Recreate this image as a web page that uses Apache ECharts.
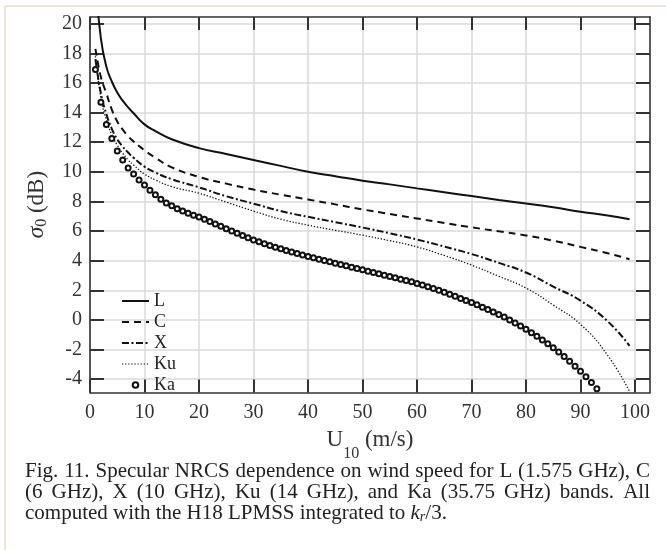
<!DOCTYPE html>
<html><head><meta charset="utf-8">
<script src="https://cdn.jsdelivr.net/npm/echarts@6/dist/echarts.min.js"></script>
<style>html,body{margin:0;padding:0;background:#fff}#c{width:666px;height:550px}</style>
</head><body><div id="c"></div>
<script>
// wind speed samples (m/s) for the line curves
const uLine = [1,2,3,4,5,6,7,8,10,12,15,20,25,30,35,40,45,50,55,60,65,70,75,80,85,90,95,99];
const L  = [23.0,19.0,17.1,16.1,15.35,14.8,14.35,13.95,13.2,12.75,12.2,11.6,11.2,10.8,10.4,10.0,9.7,9.4,9.15,8.88,8.62,8.36,8.1,7.86,7.6,7.3,7.05,6.8];
const C  = [18.3,16.4,15.3,14.2,13.4,12.85,12.4,12.05,11.45,10.95,10.3,9.65,9.2,8.8,8.45,8.13,7.8,7.46,7.15,6.85,6.55,6.25,5.98,5.7,5.35,4.93,4.5,4.1];
const X  = [17.6,15.3,13.9,12.9,12.2,11.7,11.3,10.95,10.35,9.95,9.5,8.95,8.35,7.85,7.35,6.96,6.6,6.24,5.85,5.43,4.95,4.45,3.85,3.2,2.25,1.3,-0.1,-1.75];
const Ku = [17.8,15.0,13.5,12.5,11.8,11.25,10.8,10.45,9.85,9.45,9.0,8.55,7.95,7.35,6.8,6.4,6.05,5.72,5.35,4.93,4.35,3.7,2.95,2.15,1.0,-0.3,-2.4,-4.85];
// Ka band is drawn as markers, one per m/s
const uKa = [1,2,3,4,5,6,7,8,9,10,11,12,13,14,15,16,17,18,19,20,21,22,23,24,25,26,27,28,29,30,31,32,33,34,35,36,37,38,39,40,41,42,43,44,45,46,47,48,49,50,51,52,53,54,55,56,57,58,59,60,61,62,63,64,65,66,67,68,69,70,71,72,73,74,75,76,77,78,79,80,81,82,83,84,85,86,87,88,89,90,91,92,93];
const Ka = [16.9,14.7,13.2,12.25,11.4,10.8,10.25,9.85,9.45,9.1,8.75,8.45,8.15,7.9,7.7,7.5,7.35,7.2,7.07,6.95,6.8,6.64,6.48,6.32,6.16,6.0,5.85,5.7,5.55,5.4,5.27,5.14,5.02,4.91,4.8,4.69,4.58,4.48,4.38,4.28,4.19,4.1,4.01,3.92,3.83,3.74,3.65,3.56,3.47,3.38,3.29,3.2,3.11,3.02,2.93,2.84,2.75,2.66,2.57,2.46,2.35,2.24,2.12,2.0,1.87,1.73,1.59,1.45,1.31,1.17,1.02,0.86,0.7,0.54,0.37,0.19,0.0,-0.2,-0.41,-0.63,-0.86,-1.1,-1.35,-1.61,-1.88,-2.17,-2.47,-2.79,-3.12,-3.47,-3.84,-4.23,-4.64];
const xTicks = [0,10,20,30,40,50,60,70,80,90,100];
const yTicks = [-4,-2,0,2,4,6,8,10,12,14,16,18,20];
const captionLine1 = 'Fig. 11. Specular NRCS dependence on wind speed for L (1.575 GHz), C';
const captionLine2 = '(6 GHz), X (10 GHz), Ku (14 GHz), and Ka (35.75 GHz) bands. All';
const captionLine3a = 'computed with the H18 LPMSS integrated to ';

const FONT = 'Liberation Serif';
const INK = '#222';
const pair = (us, vs) => vs.map((v, i) => [us[i], v]);

const capFont = '21px "' + FONT + '"';
const mctx = document.createElement('canvas').getContext('2d');
mctx.font = capFont;
function justified(text, y, x0, x1) {
  const words = text.split(' ');
  const w = words.map(s => mctx.measureText(s).width);
  const total = w.reduce((a, b) => a + b, 0);
  const gap = (x1 - x0 - total) / (words.length - 1);
  let x = x0;
  return words.map((s, i) => {
    const el = { type: 'text', x: x, y: y, style: { text: s, font: capFont, fill: INK, verticalAlign: 'middle' } };
    x += w[i] + gap;
    return el;
  });
}

const axisLineStyle = { color: '#333', width: 1.6 };
const tickStyle = { color: '#333', width: 2 };
const labelStyle = { fontFamily: FONT, fontSize: 20, color: '#333' };
const noSym = { color: 'rgba(0,0,0,0)', borderColor: 'rgba(0,0,0,0)' };

const chart = echarts.init(document.getElementById('c'), null, { renderer: 'canvas' });
chart.setOption({
  backgroundColor: '#fff',
  animation: false,
  grid: { left: 90, top: 17, width: 560, height: 375.5, containLabel: false },
  legend: {
    orient: 'vertical', left: 116, top: 287, itemWidth: 27, itemHeight: 7, itemGap: 3,
    textStyle: { fontFamily: FONT, fontSize: 18, color: INK },
    data: [
      { name: 'L', itemStyle: noSym, lineStyle: { width: 2 } },
      { name: 'C', itemStyle: noSym, lineStyle: { width: 2 } },
      { name: 'X', itemStyle: noSym, lineStyle: { width: 2 } },
      { name: 'Ku', itemStyle: noSym, lineStyle: { width: 1.2 } },
      { name: 'Ka', lineStyle: { width: 0 } }
    ]
  },
  xAxis: [{
    type: 'value', min: 0, max: 102.75, position: 'bottom',
    axisLine: { show: true, onZero: false, lineStyle: axisLineStyle },
    axisTick: { show: true, inside: true, length: 13, lineStyle: tickStyle, customValues: xTicks },
    axisLabel: Object.assign({ margin: 10, customValues: xTicks }, labelStyle),
    splitLine: { show: true, lineStyle: { color: '#dadada', width: 1.5 } },
    name: '{a|U}{b|10}{a| (m/s)}', nameLocation: 'middle', nameGap: 36,
    nameTextStyle: {
      rich: {
        a: { fontFamily: FONT, fontSize: 23, color: '#333', lineHeight: 24, verticalAlign: 'top' },
        b: { fontFamily: FONT, fontSize: 16, color: '#333', lineHeight: 16, padding: [17, 0, 0, 0], verticalAlign: 'top' }
      }
    }
  }, {
    type: 'value', min: 0, max: 102.75, position: 'top',
    axisLine: { show: true, onZero: false, lineStyle: axisLineStyle },
    axisTick: { show: true, inside: true, length: 13, lineStyle: tickStyle, customValues: xTicks },
    axisLabel: { show: false }, splitLine: { show: false }
  }],
  yAxis: [{
    type: 'value', min: -4.9, max: 20.45, position: 'left',
    axisLine: { show: true, onZero: false, lineStyle: axisLineStyle },
    axisTick: { show: true, inside: true, length: 14, lineStyle: tickStyle, customValues: yTicks },
    axisLabel: Object.assign({ margin: 8, customValues: yTicks }, labelStyle),
    splitLine: { show: true, lineStyle: { color: '#dadada', width: 1.5 } },
    name: '{s|σ}{b|0}{a| (dB)}', nameLocation: 'middle', nameGap: 41,
    nameTextStyle: {
      rich: {
        s: { fontFamily: FONT, fontSize: 24, fontStyle: 'italic', color: '#333', lineHeight: 24, verticalAlign: 'top' },
        a: { fontFamily: FONT, fontSize: 23, color: '#333', lineHeight: 24, verticalAlign: 'top' },
        b: { fontFamily: FONT, fontSize: 16, color: '#333', lineHeight: 16, padding: [9, 0, 0, 0], verticalAlign: 'top' }
      }
    }
  }, {
    type: 'value', min: -4.9, max: 20.45, position: 'right',
    axisLine: { show: true, onZero: false, lineStyle: axisLineStyle },
    axisTick: { show: true, inside: true, length: 14, lineStyle: tickStyle, customValues: yTicks },
    axisLabel: { show: false }, splitLine: { show: false }
  }],
  series: [
    { name: 'L', type: 'line', data: pair(uLine, L), showSymbol: false, symbol: 'none', smooth: 0.5,
      lineStyle: { color: '#111', width: 2, type: 'solid' }, itemStyle: { color: '#111' } },
    { name: 'C', type: 'line', data: pair(uLine, C), showSymbol: false, symbol: 'none', smooth: 0.5,
      lineStyle: { color: '#111', width: 2, type: [7, 5] }, itemStyle: { color: '#111' } },
    { name: 'X', type: 'line', data: pair(uLine, X), showSymbol: false, symbol: 'none', smooth: 0.5,
      lineStyle: { color: '#111', width: 2, type: [7, 2.5, 2, 2.5] }, itemStyle: { color: '#111' } },
    { name: 'Ku', type: 'line', data: pair(uLine, Ku), showSymbol: false, symbol: 'none', smooth: 0.5,
      lineStyle: { color: '#111', width: 1.3, type: [1.3, 1.8] }, itemStyle: { color: '#111' } },
    { name: 'Ka', type: 'line', data: pair(uKa, Ka), showSymbol: true, showAllSymbol: true, symbol: 'emptyCircle', symbolSize: 5,
      lineStyle: { width: 0 }, itemStyle: { color: '#111', borderColor: '#111', borderWidth: 1.3 } }
  ],
  graphic: [
    { type: 'line', shape: { x1: 5, y1: 6, x2: 666, y2: 6 }, style: { stroke: '#ece6d6', lineWidth: 2 } },
    { type: 'line', shape: { x1: 5, y1: 6, x2: 5, y2: 550 }, style: { stroke: '#ece6d6', lineWidth: 2 } }
  ].concat(justified(captionLine1, 471, 25, 650))
   .concat(justified(captionLine2, 492, 25, 650))
   .concat([{
     type: 'text', x: 25, y: 513,
     style: {
       text: '{n|' + captionLine3a + '}{i|k}{s|r}{n|/3.}', verticalAlign: 'middle',
       rich: {
         n: { font: capFont, fill: INK },
         i: { font: 'italic 21px "' + FONT + '"', fill: INK },
         s: { font: 'italic 14px "' + FONT + '"', fill: INK, padding: [8, 0, 0, 0] }
       }
     }
   }])
});
</script>
</body></html>
